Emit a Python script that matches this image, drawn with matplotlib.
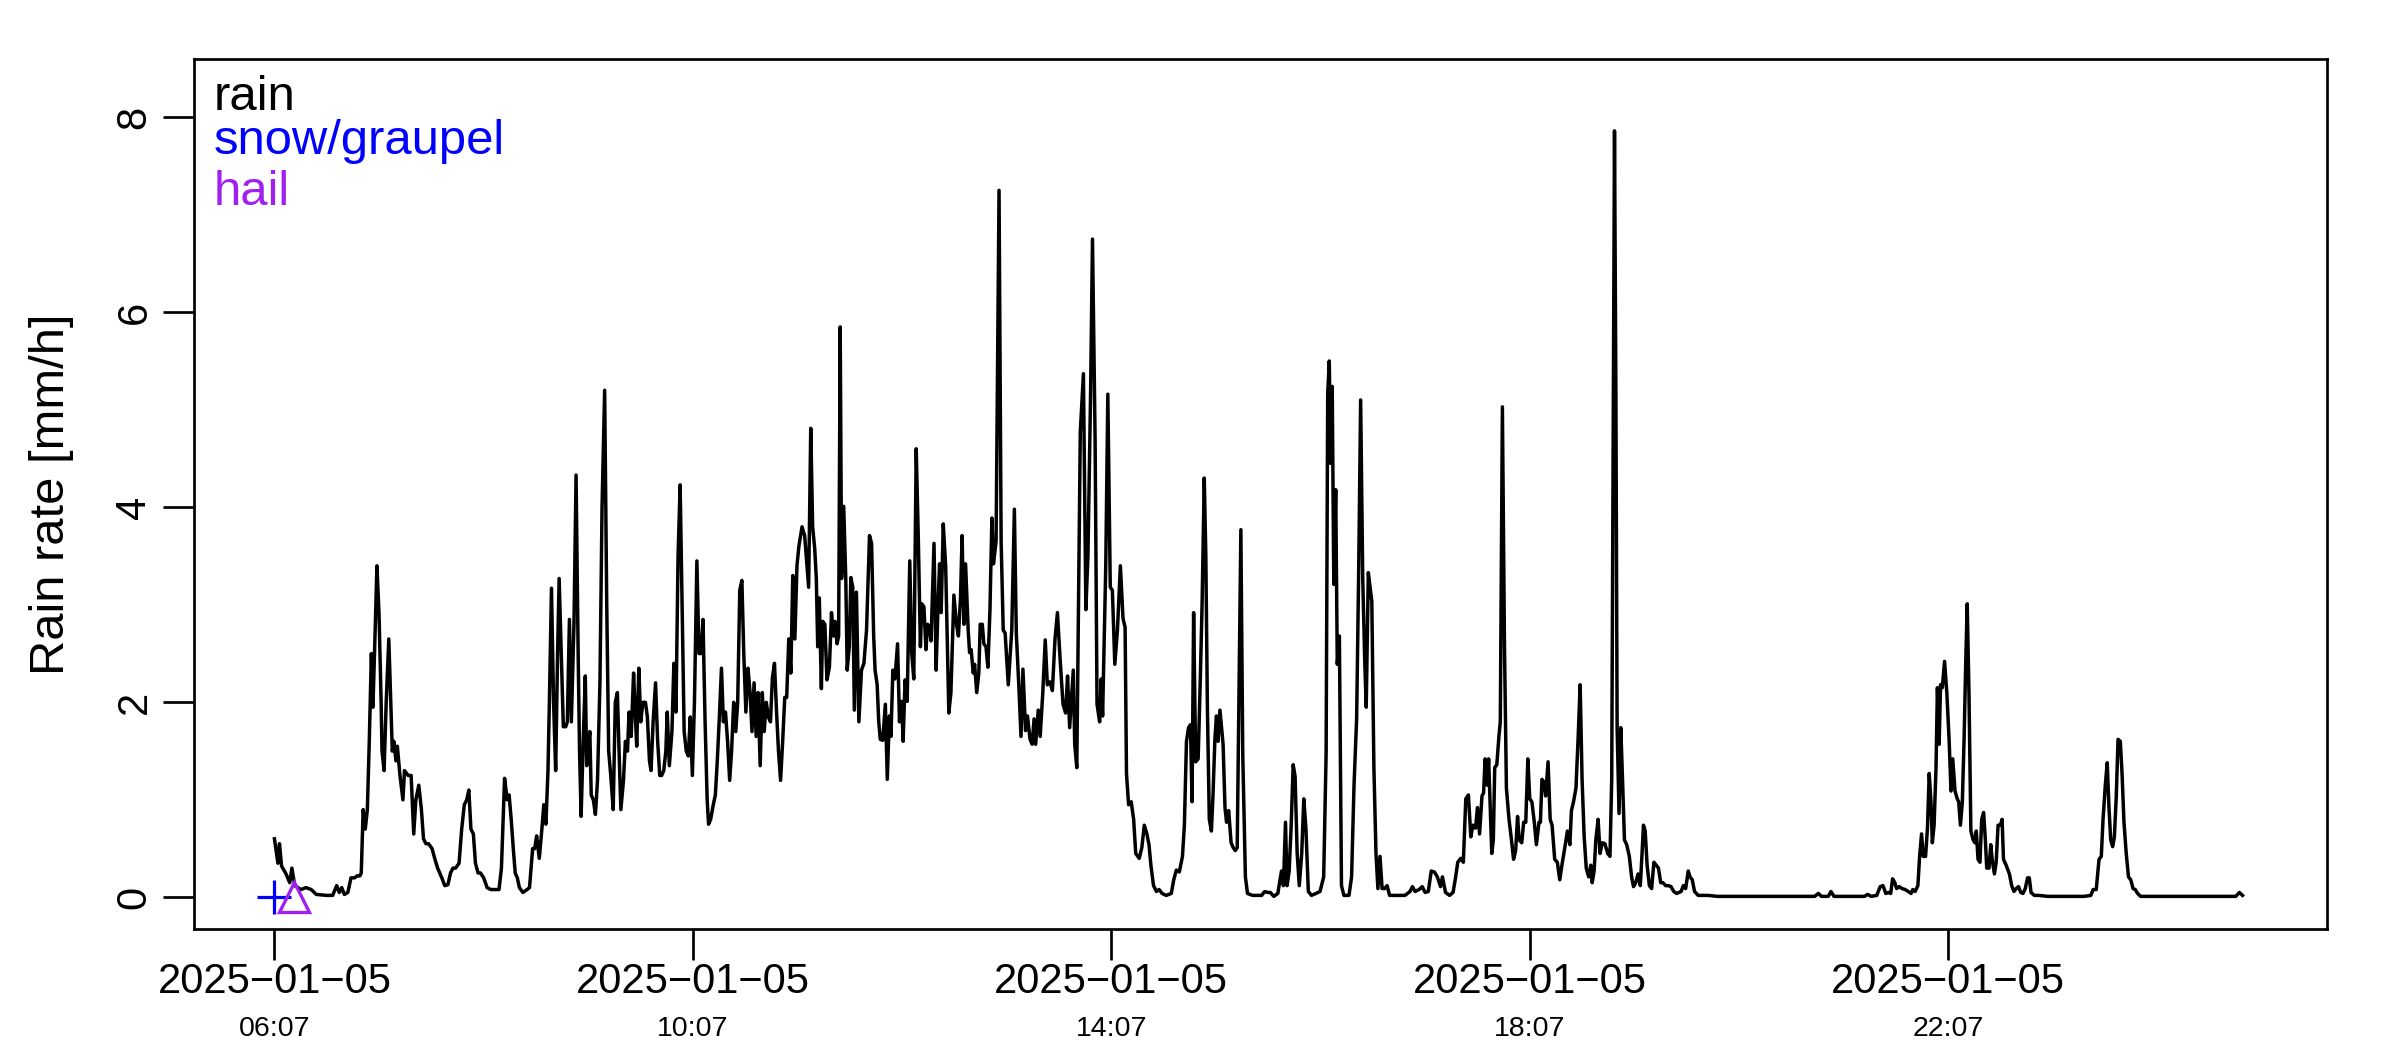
import matplotlib
matplotlib.use('Agg')
import matplotlib.pyplot as plt

# rain rate series, time in minutes after 2025-01-05 06:07
minutes = [
    0.0, 2.0, 2.9, 4.1, 6.4, 8.8, 10.0, 11.7, 15.2, 18.1,
    21.1, 24.0, 29.9, 33.4, 35.7, 37.2, 38.6, 40.1, 42.1, 43.9,
    46.0, 47.4, 49.0, 49.8, 50.9, 52.1, 53.3, 54.4, 55.6, 56.5,
    57.4, 58.8, 60.0, 61.2, 61.7, 62.9, 64.1, 65.6, 66.7, 67.6,
    68.5, 69.7, 70.5, 72.0, 73.7, 74.6, 76.7, 78.4, 79.9, 81.1,
    82.8, 84.3, 85.5, 86.9, 88.4, 90.4, 91.9, 93.6, 96.0, 97.7,
    99.5, 101.0, 102.4, 103.9, 105.9, 107.4, 108.9, 110.3, 111.5, 112.7,
    114.1, 115.3, 116.8, 118.2, 120.0, 122.0, 124.1, 126.4, 128.8, 130.2,
    132.0, 133.5, 134.6, 135.8, 137.0, 138.1, 139.3, 140.5, 142.5, 144.9,
    146.3, 148.1, 149.3, 150.4, 151.9, 153.4, 154.5, 155.7, 156.9, 157.7,
    158.9, 160.1, 161.3, 162.4, 163.3, 164.5, 165.7, 167.1, 168.0, 169.2,
    170.3, 171.8, 173.0, 174.2, 175.0, 175.9, 177.1, 178.3, 179.1, 180.0,
    180.9, 181.7, 182.9, 184.1, 185.3, 186.7, 187.9, 189.4, 190.6, 191.7,
    192.9, 194.3, 195.5, 196.7, 197.5, 198.7, 200.2, 201.3, 202.5, 203.4,
    204.6, 206.0, 206.9, 207.8, 209.0, 210.1, 211.3, 212.8, 213.9, 215.1,
    216.0, 217.2, 218.6, 219.8, 221.0, 222.1, 223.3, 224.5, 225.3, 226.5,
    228.0, 229.1, 230.3, 231.5, 232.7, 233.8, 235.0, 236.2, 237.4, 238.5,
    239.7, 240.9, 242.3, 243.5, 244.7, 245.8, 247.0, 248.2, 249.0, 250.2,
    251.7, 252.9, 254.0, 255.2, 256.4, 257.5, 258.7, 259.9, 261.1, 262.2,
    263.4, 264.6, 265.7, 266.9, 268.1, 269.2, 270.4, 271.6, 272.8, 273.9,
    275.1, 276.3, 277.4, 278.6, 279.8, 280.9, 282.1, 283.3, 284.5, 285.6,
    286.8, 288.0, 289.1, 290.3, 291.5, 292.7, 293.8, 295.0, 296.2, 297.3,
    298.5, 299.7, 300.8,
    302.6, 304.1, 305.2, 306.4, 307.6, 308.7, 309.9, 310.8, 311.6, 312.5,
    313.7, 314.5, 315.7, 316.9, 318.3, 319.5, 320.7, 321.5, 322.7, 323.6,
    324.5, 325.3, 326.5, 327.7, 328.5, 329.7, 330.6, 331.7, 332.6, 333.8,
    335.2, 336.7, 338.1, 339.6, 341.3, 342.5, 343.7, 344.5, 345.7, 346.6,
    347.5, 348.9, 350.4, 351.5, 352.7, 353.6, 354.7, 355.9, 357.4, 358.5,
    359.7, 360.6, 361.7, 362.9, 364.4, 365.5, 366.7, 368.1, 369.3, 370.5,
    371.3, 372.5, 373.7, 374.6, 375.7, 376.6, 378.3, 379.5, 380.7, 381.5,
    382.4, 383.6, 385.0, 386.8, 388.0, 389.7, 391.2, 392.3, 393.5, 394.4,
    395.5, 396.4, 397.9, 398.7, 399.6, 400.8, 401.6, 402.8, 404.0, 404.8,
    406.0, 406.9, 408.1, 409.2, 410.4, 411.5, 412.4, 413.9, 415.6, 416.8,
    418.0, 419.1, 420.9, 422.9, 424.4, 425.5, 427.0, 428.2, 429.3, 430.8,
    431.9, 433.4, 434.6, 435.7, 436.6, 438.1, 439.2, 440.7, 442.1, 443.3,
    444.8, 446.2, 447.7, 449.1, 450.6, 452.3, 453.8, 454.9, 456.1, 458.2,
    459.0, 460.2, 461.4, 462.2, 464.0, 465.4, 466.6, 468.1, 469.2, 470.7,
    471.8, 473.3, 474.2, 475.0, 476.8, 478.0, 479.4, 480.6, 482.0, 483.5,
    485.2, 486.7, 487.9, 488.7, 489.9, 491.4, 492.8, 494.0, 496.0, 497.5,
    498.9, 500.4, 501.6, 502.7, 504.2, 505.9, 507.4, 509.1, 511.5, 514.4,
    515.8, 517.3, 519.0, 520.8, 521.9, 523.1, 524.3, 525.4, 526.3, 527.2,
    528.4, 529.8, 531.0, 532.1, 533.3, 534.2, 535.1, 536.2, 537.4, 538.3,
    539.4, 540.3, 541.2, 542.3, 544.1, 545.2, 546.1, 547.3, 548.7, 549.9,
    551.1, 552.2, 554.3, 555.4, 556.9, 558.1, 561.0, 563.9, 566.2, 568.0,
    569.7, 571.2, 573.2, 575.5, 577.6, 578.7, 579.9, 580.8, 582.0, 583.1,
    584.3, 585.4, 586.6, 587.8, 589.2, 590.4, 591.6, 593.0, 594.8, 597.4,
    599.7, 601.8, 603.2, 604.1, 605.0, 605.8, 606.7, 607.6, 608.7, 609.6,
    610.8, 612.0, 613.4, 616.3, 617.8, 619.2, 620.7, 621.9, 623.0, 624.2,
    625.4, 626.2, 627.4, 628.6, 629.4, 630.6, 631.8, 632.9, 634.1, 635.3,
    636.7, 638.2, 639.6, 642.5, 645.5, 648.4, 651.3, 652.7, 654.2, 656.5,
    658.3, 660.0, 661.8, 663.5, 665.3, 667.0, 668.8, 669.9, 671.7, 674.0,
    676.0, 677.5, 678.7, 680.4, 681.9, 683.3, 684.8, 686.2, 687.4, 688.9,
    690.0, 691.2, 692.6, 693.5, 694.4, 695.6, 696.4, 697.3, 698.2, 699.1,
    699.9, 701.1, 702.3, 703.1, 704.3, 705.5, 706.6, 708.1, 709.5, 710.7,
    711.9, 713.0, 713.9, 715.4, 716.5, 717.7, 718.9, 720.0, 721.2, 722.6,
    723.8, 725.3, 726.1, 727.0, 728.2, 729.1, 730.5, 731.7, 732.8, 734.3,
    735.8, 737.2, 738.7, 740.1, 741.6, 743.0, 743.9, 745.1, 746.5, 747.7,
    748.9, 750.0, 751.2, 752.4, 753.8, 755.0,
    755.8, 756.9, 757.9, 759.2, 760.3, 761.6, 763.1, 764.7, 766.0, 767.0,
    767.8, 768.6, 769.4, 770.1, 771.2, 772.2, 773.2, 774.3, 775.6, 777.1,
    778.4, 779.5, 780.8, 782.1, 783.4, 784.4, 785.2, 786.2, 787.3, 788.6,
    789.9, 791.2, 792.5, 793.8, 795.1, 796.4, 797.9, 799.5, 801.0, 802.6,
    804.2, 805.5, 806.8, 808.1, 809.4, 810.9, 811.9, 813.2, 814.5, 816.6,
    819.7, 822.3, 827.5, 835.3, 845.7, 856.1, 869.1, 883.4, 885.5, 887.3,
    891.2, 892.7, 894.5, 902.9, 911.9, 913.8, 915.8, 919.0, 921.0, 922.6,
    924.2, 925.7, 927.0, 928.1, 929.4, 930.4, 931.9, 933.5, 935.3, 937.1,
    938.7, 939.7, 941.0, 942.6, 943.6, 944.7, 945.7, 947.0, 948.1, 949.1,
    950.1, 950.9, 951.9, 953.0, 953.8, 954.8, 955.6, 956.6, 957.9, 959.2,
    960.5, 961.6, 962.6, 963.9, 965.2, 966.0, 967.0, 968.1, 969.1, 970.1,
    970.9, 971.9, 973.0, 974.3, 975.3, 976.1, 977.1, 978.2, 979.2, 980.3,
    981.3, 982.1, 983.4, 984.4, 985.2, 986.5, 987.5, 988.6, 989.9, 990.9,
    991.7, 993.2, 995.1, 996.4, 997.7, 999.0, 1000.3, 1001.6, 1002.9, 1004.2,
    1005.5, 1006.5, 1007.5, 1009.4, 1011.9, 1017.1, 1027.5, 1037.9, 1041.8, 1043.1,
    1044.9, 1046.5, 1047.8, 1048.8, 1050.1, 1051.2, 1052.2, 1053.2, 1054.3, 1055.3,
    1056.4, 1057.4, 1058.7, 1059.7, 1060.8, 1062.1, 1063.4, 1064.7, 1066.0, 1067.3,
    1068.6, 1070.4, 1074.3, 1080.8, 1084.7, 1089.9, 1095.1, 1110.6, 1121.0, 1124.9,
    1127.0, 1128.8,
]

rain = [
    0.60, 0.35, 0.55, 0.32, 0.25, 0.15, 0.30, 0.12, 0.08, 0.10,
    0.08, 0.03, 0.02, 0.02, 0.12, 0.05, 0.10, 0.03, 0.05, 0.20,
    0.20, 0.22, 0.22, 0.25, 0.90, 0.70, 0.90, 1.60, 2.50, 1.95,
    2.50, 3.40, 2.90, 2.00, 1.50, 1.30, 2.00, 2.65, 2.00, 1.50,
    1.60, 1.40, 1.55, 1.25, 1.00, 1.30, 1.25, 1.25, 0.65, 1.00,
    1.15, 0.90, 0.60, 0.55, 0.55, 0.50, 0.40, 0.30, 0.20, 0.12,
    0.13, 0.25, 0.30, 0.30, 0.35, 0.70, 0.95, 1.00, 1.10, 0.70,
    0.65, 0.35, 0.25, 0.25, 0.20, 0.10, 0.08, 0.08, 0.08, 0.30,
    1.22, 1.00, 1.05, 0.80, 0.50, 0.25, 0.20, 0.10, 0.05, 0.08,
    0.10, 0.50, 0.50, 0.63, 0.40, 0.70, 0.95, 0.75, 1.30, 2.00,
    3.17, 2.00, 1.30, 2.50, 3.27, 2.50, 1.75, 1.75, 1.80, 2.85,
    1.80, 2.80, 4.33, 2.50, 1.50, 0.83, 1.60, 2.27, 1.35, 1.55,
    1.70, 1.05, 1.00, 0.85, 1.20, 2.20, 4.00, 5.20, 3.00, 1.50,
    1.25, 0.90, 2.00, 2.10, 1.60, 0.90, 1.20, 1.60, 1.50, 1.90,
    1.65, 2.30, 1.90, 1.55, 2.35, 1.80, 2.00, 2.00, 1.85, 1.40,
    1.30, 1.80, 2.20, 1.60, 1.25, 1.25, 1.30, 1.50, 1.90, 1.35,
    1.70, 2.40, 1.90, 3.50, 4.23, 3.00, 1.70, 1.50, 1.45, 1.85,
    1.25, 2.00, 3.45, 2.50, 2.50, 2.85, 1.80, 1.00, 0.75, 0.80,
    0.95, 1.05, 1.40, 1.85, 2.35, 1.80, 1.90, 1.60, 1.20, 1.50,
    2.00, 1.70, 2.00, 3.15, 3.25, 2.50, 1.90, 2.35, 2.10, 1.70,
    2.20, 1.65, 2.10, 1.35, 2.10, 1.70, 2.00, 1.85, 1.80, 2.25,
    2.40, 1.90, 1.50, 1.20, 1.60, 2.05, 2.05, 2.65, 2.30, 3.30,
    2.65, 3.40, 3.60,
    3.80, 3.71, 3.45, 3.18, 4.81, 3.80, 3.57, 3.27, 2.57, 3.07,
    2.14, 2.83, 2.80, 2.23, 2.36, 2.92, 2.68, 2.83, 2.60, 2.68,
    5.85, 3.27, 4.01, 3.27, 2.33, 2.57, 3.28, 3.18, 1.92, 3.13,
    1.80, 2.33, 2.40, 2.74, 3.71, 3.63, 2.68, 2.33, 2.18, 1.80,
    1.62, 1.61, 1.98, 1.21, 1.86, 1.65, 2.33, 2.24, 2.60, 1.80,
    2.01, 1.60, 2.23, 2.01, 3.45, 2.51, 2.24, 4.60, 3.68, 2.57,
    3.01, 2.98, 2.54, 2.80, 2.77, 2.63, 3.63, 2.33, 3.04, 3.42,
    2.92, 3.83, 3.39, 1.89, 2.10, 3.10, 2.80, 2.68, 3.07, 3.71,
    2.80, 3.42, 2.74, 2.51, 2.54, 2.30, 2.39, 2.10, 2.30, 2.80,
    2.80, 2.60, 2.57, 2.36, 2.95, 3.89, 3.42, 3.65, 7.25, 3.65,
    2.74, 2.71, 2.18, 2.74, 3.98, 2.71, 2.15, 1.65, 2.34, 1.71,
    1.86, 1.62, 1.57, 1.83, 1.57, 1.92, 1.65, 2.10, 2.64, 2.18,
    2.21, 2.12, 2.65, 2.92, 2.45, 1.98, 1.89, 2.27, 1.74, 2.33,
    1.57, 1.33, 3.39, 4.77, 5.37, 2.95, 3.51, 5.16, 6.75, 4.69,
    1.98, 1.80, 2.24, 1.86, 3.39, 5.16, 3.18, 3.15, 2.39, 2.74,
    3.40, 2.86, 2.77, 1.27, 0.95, 0.98, 0.80, 0.45, 0.40, 0.51,
    0.74, 0.65, 0.54, 0.33, 0.12, 0.06, 0.08, 0.04, 0.02, 0.04,
    0.18, 0.28, 0.26, 0.42, 0.74, 1.60, 1.74, 1.77, 0.98, 2.92,
    1.39, 1.42, 2.21, 3.04, 4.30, 3.51, 1.95, 0.80, 0.68, 1.04,
    1.62, 1.86, 1.60, 1.92, 1.57, 0.92, 0.77, 0.89, 0.56, 0.51,
    0.48, 0.51, 3.77, 1.45, 0.21, 0.04, 0.02, 0.02, 0.02, 0.06,
    0.05, 0.05, 0.01, 0.04, 0.27, 0.12, 0.77, 0.12, 0.27, 0.71,
    1.36, 1.24, 0.45, 0.12, 0.45, 1.01, 0.71, 0.06, 0.02, 0.04,
    0.06, 0.21, 1.48, 5.16, 5.50, 4.45, 5.24, 3.21, 4.18, 2.39,
    2.68, 0.12, 0.02, 0.02, 0.21, 1.15, 1.83, 3.39, 5.10, 3.27,
    2.39, 1.95, 3.33, 3.15, 3.04, 1.33, 0.45, 0.09, 0.42, 0.09,
    0.09, 0.12, 0.02, 0.02, 0.02, 0.02, 0.06, 0.11, 0.06, 0.08,
    0.11, 0.05, 0.06, 0.27, 0.26, 0.21, 0.11, 0.21, 0.05, 0.02,
    0.05, 0.21, 0.36, 0.40, 0.36, 1.01, 1.05, 0.62, 0.74, 0.71,
    0.92, 0.65, 1.04, 1.07, 1.42, 1.15, 1.42, 0.92, 0.45, 0.59,
    1.33, 1.36, 1.65, 1.80, 5.03, 2.57, 1.12, 0.80, 0.59, 0.39,
    0.48, 0.83, 0.59, 0.56, 0.77, 0.77, 1.42, 1.01, 0.98, 0.77,
    0.54, 0.77, 0.77, 1.21, 1.18, 1.04, 1.39, 0.80, 0.74, 0.39,
    0.36, 0.18, 0.36, 0.51, 0.68, 0.54, 0.89, 0.98, 1.12, 1.62,
    2.18, 1.21, 0.62, 0.30, 0.21, 0.33,
    0.15, 0.27, 0.59, 0.80, 0.45, 0.56, 0.55, 0.45, 0.42, 1.21,
    4.57, 7.86, 5.16, 1.74, 0.86, 1.74, 1.21, 0.59, 0.54, 0.42,
    0.21, 0.11, 0.15, 0.24, 0.12, 0.45, 0.74, 0.68, 0.33, 0.12,
    0.09, 0.36, 0.33, 0.30, 0.15, 0.15, 0.12, 0.12, 0.11, 0.06,
    0.04, 0.05, 0.06, 0.12, 0.09, 0.27, 0.21, 0.18, 0.06, 0.02,
    0.02, 0.02, 0.01, 0.01, 0.01, 0.01, 0.01, 0.01, 0.04, 0.01,
    0.01, 0.06, 0.01, 0.01, 0.01, 0.03, 0.01, 0.02, 0.11, 0.12,
    0.04, 0.05, 0.04, 0.19, 0.15, 0.09, 0.11, 0.09, 0.08, 0.06,
    0.04, 0.08, 0.06, 0.12, 0.42, 0.65, 0.42, 0.42, 0.71, 1.27,
    0.98, 0.56, 0.74, 1.33, 2.15, 1.57, 2.18, 2.15, 2.42, 2.10,
    1.62, 1.09, 1.42, 1.09, 1.01, 0.98, 0.74, 0.98, 1.62, 2.45,
    3.01, 2.10, 0.68, 0.59, 0.56, 0.68, 0.39, 0.36, 0.80, 0.87,
    0.59, 0.30, 0.30, 0.54, 0.39, 0.24, 0.36, 0.74, 0.74, 0.80,
    0.39, 0.33, 0.24, 0.12, 0.06, 0.09, 0.11, 0.05, 0.04, 0.09,
    0.20, 0.20, 0.05, 0.02, 0.02, 0.01, 0.01, 0.01, 0.02, 0.08,
    0.08, 0.39, 0.42, 0.80, 1.15, 1.38, 0.92, 0.59, 0.52, 0.62,
    1.04, 1.62, 1.60, 1.27, 0.77, 0.45, 0.21, 0.18, 0.09, 0.08,
    0.04, 0.01, 0.01, 0.01, 0.01, 0.01, 0.01, 0.01, 0.01, 0.01,
    0.05, 0.02,
]

# other precipitation types
snow_minutes = [0]
snow_rate = [0]
hail_minutes = [11]
hail_rate = [0]

tick_minutes = [0, 240, 480, 720, 960]
tick_dates = ["2025\u221201\u221205"] * 5
tick_times = ["06:07", "10:07", "14:07", "18:07", "22:07"]
y_ticks = [0, 2, 4, 6, 8]

legend_labels = ["rain", "snow/graupel", "hail"]
legend_colors = ["black", "blue", "#A020F0"]
legend_y = [0.9414, 0.8908, 0.8322]

plt.rcParams['font.family'] = ['Liberation Sans', 'DejaVu Sans']

fig = plt.figure(figsize=(24, 10.5), dpi=100)
ax = fig.add_axes([0.081, 0.1152, 0.8884, 0.8286])

ax.plot(minutes, rain, color='black', lw=2.5, solid_joinstyle='round')
ax.plot(snow_minutes, snow_rate, ls='none', marker='+', ms=24, mew=2.3, color='blue')
ax.plot(hail_minutes, hail_rate, ls='none', marker='^', ms=22, mew=2.4,
        mfc='none', mec='#A020F0')

ax.set_xlim(-45.9, 1177)
ax.set_ylim(-0.325, 8.597)

for s in ax.spines.values():
    s.set_linewidth(1.95)

ax.set_xticks(tick_minutes)
ax.set_xticklabels(tick_dates, fontsize=30)
ax.set_yticks(y_ticks)
ax.set_yticklabels([str(v) for v in y_ticks], fontsize=30, rotation=90, va='center')
ax.tick_params(axis='x', length=22.3, width=1.95, pad=1.5)
ax.tick_params(axis='y', length=22.3, width=1.95, pad=6.5)

for m, t in zip(tick_minutes, tick_times):
    ax.text(m, -0.123, t, transform=ax.get_xaxis_transform(),
            ha='center', va='baseline', fontsize=20.5)

ax.set_ylabel("Rain rate [mm/h]", fontsize=35.2)
ax.yaxis.set_label_coords(-0.0567, 0.5)

for lab, col, yy in zip(legend_labels, legend_colors, legend_y):
    ax.text(0.009, yy, lab, color=col, transform=ax.transAxes,
            ha='left', va='baseline', fontsize=35.3)

plt.savefig("out.png", dpi=100)
plt.close()
